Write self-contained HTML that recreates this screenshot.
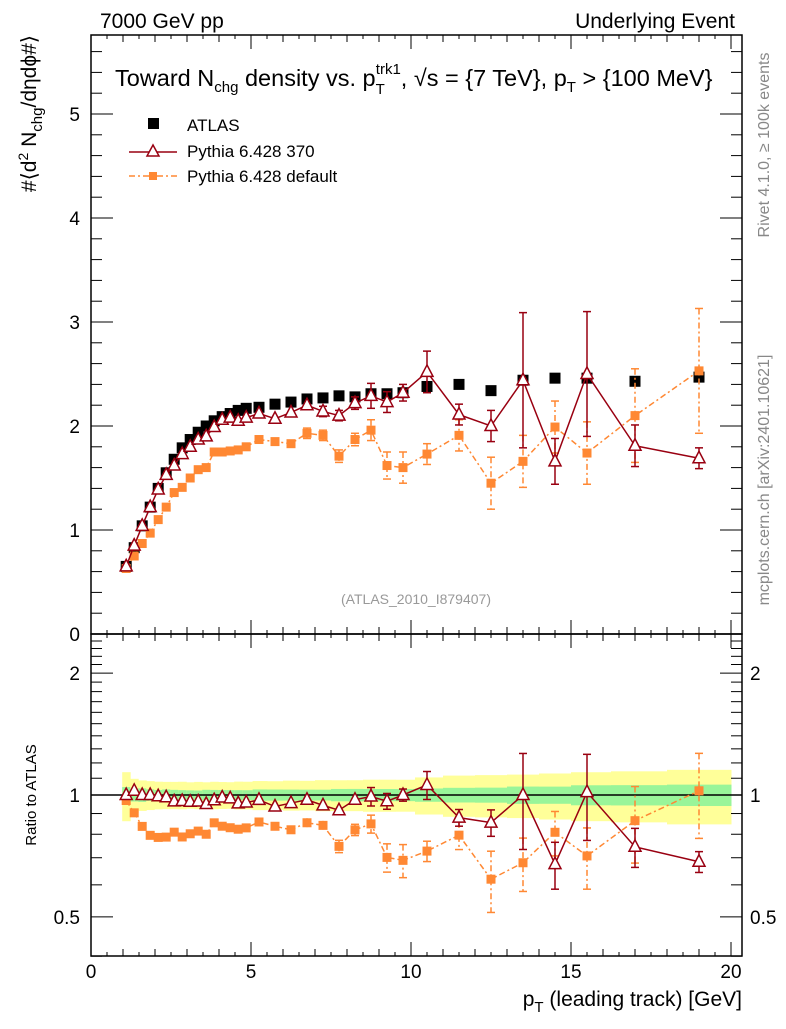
<!DOCTYPE html>
<html><head><meta charset="utf-8"><style>
body{margin:0;background:#fff}
svg text{font-family:"Liberation Sans",sans-serif}
</style></head><body>
<svg id="c" width="786" height="1024" viewBox="0 0 786 1024" xmlns="http://www.w3.org/2000/svg"></svg>
<script>
const xs=[1.1,1.35,1.6,1.85,2.1,2.35,2.6,2.85,3.1,3.35,3.6,3.85,4.1,4.35,4.6,4.85,5.25,5.75,6.25,6.75,7.25,7.75,8.25,8.75,9.25,9.75,10.5,11.5,12.5,13.5,14.5,15.5,17,19];
const atlas=[0.65,0.83,1.04,1.22,1.4,1.55,1.68,1.79,1.87,1.94,2.0,2.05,2.09,2.12,2.15,2.17,2.18,2.21,2.23,2.26,2.27,2.29,2.28,2.31,2.31,2.32,2.38,2.4,2.34,2.44,2.46,2.46,2.43,2.47];
const atlasStat=[0.03,0.03,0.04,0.04,0.04,0.05,0.05,0.05,0.05,0.05,0.06,0.06,0.06,0.06,0.06,0.06,0.07,0.07,0.07,0.07,0.07,0.08,0.08,0.08,0.08,0.08,0.09,0.1,0.1,0.12,0.12,0.14,0.14,0.15];
const atlasTot=[0.09,0.08,0.09,0.1,0.11,0.12,0.13,0.14,0.14,0.15,0.15,0.16,0.16,0.16,0.17,0.17,0.18,0.18,0.19,0.19,0.2,0.2,0.2,0.21,0.21,0.21,0.25,0.28,0.28,0.3,0.32,0.34,0.35,0.38];
const p370=[0.65,0.85,1.04,1.22,1.39,1.53,1.62,1.73,1.8,1.87,1.9,1.99,2.06,2.08,2.05,2.08,2.12,2.07,2.13,2.2,2.14,2.1,2.22,2.29,2.23,2.32,2.52,2.11,2.0,2.44,1.66,2.5,1.81,1.69];
const p370Err=[0.01,0.01,0.01,0.01,0.01,0.01,0.01,0.01,0.02,0.02,0.02,0.02,0.02,0.02,0.03,0.03,0.03,0.03,0.04,0.04,0.05,0.05,0.06,0.12,0.1,0.08,0.2,0.1,0.15,0.65,0.22,0.6,0.2,0.1];
const pdef=[0.63,0.75,0.87,0.97,1.1,1.22,1.36,1.41,1.5,1.58,1.6,1.75,1.75,1.76,1.77,1.8,1.87,1.85,1.83,1.93,1.91,1.71,1.87,1.96,1.62,1.6,1.73,1.91,1.45,1.66,1.99,1.74,2.1,2.53];
const pdefErr=[0.01,0.01,0.01,0.01,0.01,0.01,0.01,0.01,0.02,0.02,0.02,0.02,0.02,0.02,0.03,0.03,0.03,0.03,0.04,0.05,0.05,0.06,0.06,0.1,0.13,0.15,0.1,0.15,0.25,0.25,0.25,0.3,0.45,0.6];
const mainTicks=["0","1","2","3","4","5"];
const ratioTicks=[0.5,1,2];
const xTicks=["0","5","10","15","20"];

const S=document.getElementById('c');const NS='http://www.w3.org/2000/svg';
function mk(t,a,par){const e=document.createElementNS(NS,t);for(const k in a)e.setAttribute(k,a[k]);(par||S).appendChild(e);return e;}
const L=91,R=742,T=35,M=634,B=956;
const X=v=>L+32*v;
const Y=v=>634-104*v;
const YR=r=>795-405*Math.log10(r);
const redC='#990011',orC='#ff8833';
const bands=mk('g',{});
function edges(i){const lo=i==0?xs[0]-(xs[1]-xs[0])/2:(xs[i-1]+xs[i])/2;const hi=i==xs.length-1?xs[i]+(xs[i]-xs[i-1])/2:(xs[i]+xs[i+1])/2;return[lo,hi];}
for(let i=0;i<xs.length;i++){const [a,b]=edges(i);
 const yt=mk('rect',{x:X(a),y:YR(1+atlasTot[i]/atlas[i]),width:X(b)-X(a)+0.5,height:YR(1-atlasTot[i]/atlas[i])-YR(1+atlasTot[i]/atlas[i]),fill:'#ffff99'},bands);
 
 const g=mk('rect',{x:X(a),y:YR(1+atlasStat[i]/atlas[i]),width:X(b)-X(a)+0.5,height:YR(1-atlasStat[i]/atlas[i])-YR(1+atlasStat[i]/atlas[i]),fill:'#99f599'},bands);
 }
mk('line',{x1:L,x2:R,y1:YR(1),y2:YR(1),stroke:'#000','stroke-width':1.5});
for(const [t,b] of [[T,M],[M,B]]) mk('rect',{x:L,y:t,width:R-L,height:b-t,fill:'none',stroke:'#000','stroke-width':1.5});
for(let v=0;v<=20.3;v+=0.5){const maj=v%5==0;const h=maj?14:(v%1==0?7:4);
 for(const [t,b] of [[T,M],[M,B]]){mk('line',{x1:X(v),x2:X(v),y1:b,y2:b-h,stroke:'#000'});mk('line',{x1:X(v),x2:X(v),y1:t,y2:t+h,stroke:'#000'});}}
xTicks.forEach(s=>{const e=mk('text',{x:X(+s),y:978,'font-size':19,'text-anchor':'middle'});e.textContent=s;});
for(let v=0;v<=5.7;v+=0.2){const maj=Math.abs(v-Math.round(v))<1e-6;const h=maj?22:11;
 mk('line',{x1:L,x2:L+h,y1:Y(v),y2:Y(v),stroke:'#000'});mk('line',{x1:R,x2:R-h,y1:Y(v),y2:Y(v),stroke:'#000'});}
mainTicks.forEach(s=>{const e=mk('text',{x:80,y:Y(+s)+7,'font-size':19,'text-anchor':'end'});e.textContent=s;});
for(let r=0.4;r<=2.5;r+=0.1){const maj=[0.5,1,2].some(q=>Math.abs(q-r)<1e-6);const h=maj?22:11;const y=YR(r);
 mk('line',{x1:L,x2:L+h,y1:y,y2:y,stroke:'#000'});mk('line',{x1:R,x2:R-h,y1:y,y2:y,stroke:'#000'});}
ratioTicks.forEach(r=>{for(const [x,a] of [[80,'end'],[750,'start']]){const e=mk('text',{x:x,y:YR(r)+7,'font-size':19,'text-anchor':a});e.textContent=String(r);}});
function series(name,vals,errs,color,dash,marker,yf){
 const g=mk('g',{});
 mk('polyline',{points:xs.map((x,i)=>X(x)+','+yf(vals[i],i)).join(' '),fill:'none',stroke:color,'stroke-width':1.5,'stroke-dasharray':dash||'none'},g);
 xs.forEach((x,i)=>{const y=yf(vals[i],i);
  if(errs){const y1=yf(vals[i]+errs[i],i),y2=yf(vals[i]-errs[i],i);
   mk('line',{x1:X(x),x2:X(x),y1:y1,y2:y2,stroke:color,'stroke-width':1.5,'stroke-dasharray':dash||'none'},g);
   if(Math.abs(y2-y1)>10){mk('line',{x1:X(x)-4,x2:X(x)+4,y1:y1,y2:y1,stroke:color,'stroke-width':1.5},g);mk('line',{x1:X(x)-4,x2:X(x)+4,y1:y2,y2:y2,stroke:color,'stroke-width':1.5},g);}}
  let m;
  if(marker=='sqs')m=mk('rect',{x:X(x)-4.5,y:y-4.5,width:9,height:9,fill:color},g);
  else m=mk('polygon',{points:`${X(x)},${y-7} ${X(x)-6},${y+4.5} ${X(x)+6},${y+4.5}`,fill:'#fff',stroke:color,'stroke-width':1.5},g);
  });
}
const ag=mk('g',{});
xs.forEach((x,i)=>{const r=mk('rect',{x:X(x)-5.5,y:Y(atlas[i])-5.5,width:11,height:11,fill:'#000'},ag);});
series('pythia-default',pdef,pdefErr,orC,'6,3,2,3','sqs',v=>Y(v));
series('pythia-370',p370,p370Err,redC,null,'tri',v=>Y(v));
series('ratio-pythia-default',pdef.map((v,i)=>v/atlas[i]),pdefErr.map((v,i)=>v/atlas[i]),orC,'6,3,2,3','sqs',v=>YR(v));
series('ratio-pythia-370',p370.map((v,i)=>v/atlas[i]),p370Err.map((v,i)=>v/atlas[i]),redC,null,'tri',v=>YR(v));
function txt(s,a,name){const e=mk('text',a);e.innerHTML=s;return e;}
txt('7000 GeV pp',{x:100,y:28,'font-size':21},'header-left');
txt('Underlying Event',{x:735,y:28,'font-size':21,'text-anchor':'end'},'header-right');
txt('Toward N<tspan font-size="15" dy="6">chg</tspan><tspan dy="-6"> density vs. p</tspan><tspan font-size="15" dy="8">T</tspan><tspan font-size="15" dx="-9" dy="-20">trk1</tspan><tspan dy="12">, √s = {7 TeV}, p</tspan><tspan font-size="15" dy="6">T</tspan><tspan dy="-6"> &gt; {100 MeV}</tspan>',{x:115,y:86,'font-size':23.5},'plot-title');
const lg=mk('g',{});
mk('rect',{x:148,y:118,width:11,height:11,fill:'#000'},lg);
txt('ATLAS',{x:187,y:131,'font-size':17},'legend-atlas');
mk('line',{x1:129,x2:177,y1:152,y2:152,stroke:redC,'stroke-width':1.5},lg);
mk('polygon',{points:'153,145 147,156 159,156',fill:'#fff',stroke:redC,'stroke-width':1.5},lg);
txt('Pythia 6.428 370',{x:187,y:157,'font-size':17},'legend-pythia-370');
mk('line',{x1:129,x2:177,y1:176,y2:176,stroke:orC,'stroke-width':1.5,'stroke-dasharray':'6,3,2,3'},lg);
mk('rect',{x:149,y:172,width:8,height:8,fill:orC},lg);
txt('Pythia 6.428 default',{x:187,y:182,'font-size':17},'legend-pythia-default');
txt('(ATLAS_2010_I879407)',{x:416,y:604,'font-size':14,fill:'#999','text-anchor':'middle'},'analysis-id');
txt('p<tspan font-size="15" dy="6">T</tspan><tspan dy="-6"> (leading track) [GeV]</tspan>',{x:742,y:1006,'font-size':21,'text-anchor':'end'},'x-axis-title');
txt('#⟨d<tspan font-size="14" dy="-8">2</tspan><tspan dy="8"> N</tspan><tspan font-size="15" dy="6">chg</tspan><tspan dy="-6">/dηdϕ#⟩</tspan>',{x:0,y:0,'font-size':21,'text-anchor':'end',transform:'translate(36,35) rotate(-90)'},'y-axis-title');
txt('Ratio to ATLAS',{x:0,y:0,'font-size':15,'text-anchor':'middle',transform:'translate(36,795) rotate(-90)'},'ratio-axis-title');
txt('Rivet 4.1.0, ≥ 100k events',{x:0,y:0,'font-size':16,fill:'#888','text-anchor':'middle',transform:'translate(769,145) rotate(-90)'},'rivet-label');
txt('mcplots.cern.ch [arXiv:2401.10621]',{x:0,y:0,'font-size':16,fill:'#888','text-anchor':'middle',transform:'translate(769,480) rotate(-90)'},'mcplots-label');
</script>
</body></html>
